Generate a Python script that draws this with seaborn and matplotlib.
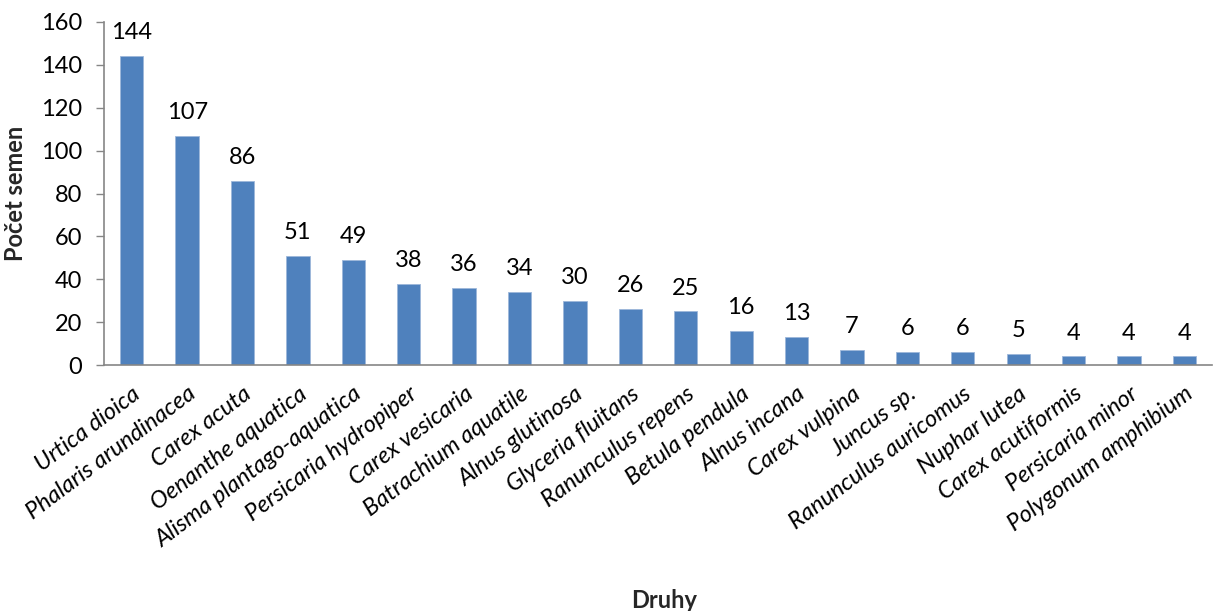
import matplotlib
matplotlib.use("Agg")
import matplotlib.pyplot as plt
import seaborn as sns
import pandas as pd

species = [
    "Urtica dioica", "Phalaris arundinacea", "Carex acuta", "Oenanthe aquatica",
    "Alisma plantago-aquatica", "Persicaria hydropiper", "Carex vesicaria",
    "Batrachium aquatile", "Alnus glutinosa", "Glyceria fluitans",
    "Ranunculus repens", "Betula pendula", "Alnus incana", "Carex vulpina",
    "Juncus sp.", "Ranunculus auricomus", "Nuphar lutea", "Carex acutiformis",
    "Persicaria minor", "Polygonum amphibium",
]
seed_counts = [144, 107, 86, 51, 49, 38, 36, 34, 30, 26, 25, 16, 13, 7, 6, 6, 5, 4, 4, 4]
y_ticks = [0, 20, 40, 60, 80, 100, 120, 140, 160]

df = pd.DataFrame({"Druhy": species, "Počet semen": seed_counts})

sns.set_theme(style="white")
plt.rcParams["font.family"] = ["Lato", "DejaVu Sans"]

fig = plt.figure(figsize=(12.15, 6.11), dpi=100)
ax = fig.add_axes([0.0856, 0.4026, 0.912, 0.5614])

bar_color = "#4F81BD"
sns.barplot(data=df, x="Druhy", y="Počet semen", color=bar_color,
            saturation=1, width=0.42, ax=ax)
for p in ax.patches:
    p.set_edgecolor("#9DB7DA")
    p.set_linewidth(0.6)

ax.set_ylim(0, 160)
ax.set_yticks(y_ticks)
ax.set_xlim(-0.5, len(species) - 0.5)

for i, v in enumerate(seed_counts):
    ax.text(i, v + 6, str(v), ha="center", va="bottom", fontsize=17, color="#000000")

ax.tick_params(axis="y", which="both", left=True, length=6, width=1,
               color="#868686", labelsize=17, pad=10, labelcolor="#000000")
ax.tick_params(axis="x", bottom=False, labelsize=17, pad=7, labelcolor="#000000")
for lbl in ax.get_xticklabels():
    lbl.set_rotation(37)
    lbl.set_ha("right")
    lbl.set_rotation_mode("anchor")
    lbl.set_style("italic")

for side in ("top", "right"):
    ax.spines[side].set_visible(False)
for side in ("left", "bottom"):
    ax.spines[side].set_color("#868686")
    ax.spines[side].set_linewidth(1.2)

ax.set_ylabel("Počet semen", fontsize=17, fontweight="bold", labelpad=10)
ax.set_xlabel("")
fig.text(0.547, 0.018, "Druhy", ha="center", va="center", fontsize=17, fontweight="bold")

fig.savefig("out.png", dpi=100, facecolor="white")
